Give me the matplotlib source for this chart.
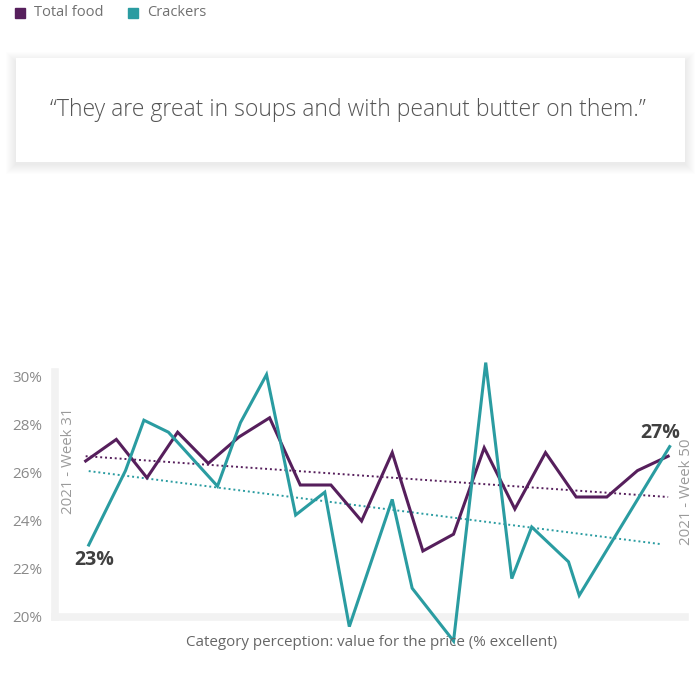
import numpy as np
import matplotlib
matplotlib.use("Agg")
import matplotlib.pyplot as plt
from matplotlib.patches import Rectangle

plt.rcParams['font.family'] = ['Open Sans', 'DejaVu Sans']

# data
weeks_total = list(range(31, 51))
total_food = [26.5, 27.4, 25.8, 27.7, 26.4, 27.5, 28.3, 25.5, 25.5, 24.0,
              26.85, 22.75, 23.45, 27.05, 24.5, 26.85, 25.0, 25.0, 26.1, 26.7]

weeks_crackers = [31.1, 32.3, 32.9, 33.7, 35.3, 36.05, 36.9, 37.85, 38.8, 39.6,
                  41.0, 41.65, 43.0, 44.05, 44.9, 45.55, 46.75, 47.1, 50.05]
crackers = [23.0, 26.1, 28.2, 27.7, 25.45, 28.1, 30.1, 24.25, 25.2, 19.6,
            24.9, 21.2, 19.0, 30.6, 21.6, 23.75, 22.3, 20.9, 27.1]

# dotted trend lines (start / end)
trend_weeks_total = [31, 50]
trend_total = [26.7, 25.0]
trend_weeks_crackers = [31.1, 49.8]
trend_crackers = [26.08, 23.03]

series_names = ['Total food', 'Crackers']
colors = ['#561f5c', '#2a9ca1']
y_ticks = [20, 22, 24, 26, 28, 30]
quote = '\u201cThey are great in soups and with peanut butter on them.\u201d'
caption = 'Category perception: value for the price (% excellent)'

fig = plt.figure(figsize=(6.99, 6.83), dpi=100)

# legend at top
for i, (name, c) in enumerate(zip(series_names, colors)):
    x0 = [15, 128][i] / 699
    fig.patches.append(Rectangle((x0, 1 - 18 / 683), 10 / 699, 10 / 683,
                                 transform=fig.transFigure, color=c))
    fig.text(x0 + 19 / 699, 1 - 13 / 683, name, fontsize=10.5, color='#707070',
             va='center', ha='left')

# quote box with soft shadow
bx0, by0, bx1, by1 = 16, 58, 685, 162
for k in range(10, 0, -1):
    fig.patches.append(Rectangle(((bx0 - k) / 699, 1 - (by1 + k + 2) / 683),
                                 (bx1 - bx0 + 2 * k) / 699, (by1 - by0 + 2 * k - 2) / 683,
                                 transform=fig.transFigure, color='#000000',
                                 alpha=0.006, lw=0))
fig.patches.append(Rectangle((bx0 / 699, 1 - by1 / 683), (bx1 - bx0) / 699,
                             (by1 - by0) / 683, transform=fig.transFigure,
                             color='white', lw=0))
fig.text(348 / 699, 1 - 110 / 683, quote, fontsize=16.6, color='#555555',
         ha='center', va='center', fontweight='light')

# main chart
ax = fig.add_axes([55 / 699, (683 - 617) / 683, 630 / 699, 244.8 / 683])
ax.plot(weeks_total, total_food, color=colors[0], lw=2.2, clip_on=False,
        solid_joinstyle='miter', zorder=4)
ax.plot(weeks_crackers, crackers, color=colors[1], lw=2.2, clip_on=False,
        solid_joinstyle='miter', zorder=4)
ax.plot(trend_weeks_total, trend_total, color=colors[0], lw=1.4,
        ls=(0, (1, 1.5)), zorder=3)
ax.plot(trend_weeks_crackers, trend_crackers, color=colors[1], lw=1.4,
        ls=(0, (1, 1.5)), zorder=3)

ax.set_xlim(30, 50.55)
ax.set_ylim(20, 30.2)
ax.set_yticks(y_ticks)
ax.set_yticklabels([f'{t}%' for t in y_ticks])
ax.tick_params(axis='y', length=0, pad=9, labelsize=11, labelcolor='#8a8a8a')
ax.set_xticks([])
for s in ['top', 'right']:
    ax.spines[s].set_visible(False)
for s in ['left', 'bottom']:
    ax.spines[s].set_color('#f2f2f2')
    ax.spines[s].set_linewidth(5.5)
    ax.spines[s].set_zorder(1)
ax.patch.set_alpha(0)

# end labels
ax.annotate(f'{crackers[0]:.0f}%', (weeks_crackers[0], crackers[0]),
            xytext=(4, -11), textcoords='offset points', ha='center', va='center',
            fontsize=14, fontweight='bold', color='#404040')
ax.annotate(f'{crackers[-1]:.0f}%', (weeks_crackers[-1], crackers[-1]),
            xytext=(-7, 10), textcoords='offset points', ha='center', va='center',
            fontsize=14, fontweight='bold', color='#404040')
ax.text(30.45, 26.5, '2021 - Week 31', rotation=90, ha='center', va='center',
        fontsize=10.8, color='#9a9a9a')
ax.text(50.6, 25.2, '2021 - Week 50', rotation=90, ha='center', va='center',
        fontsize=10.8, color='#9a9a9a', clip_on=False)

fig.text(372 / 699, 1 - 643 / 683, caption, fontsize=10.9, color='#666666',
         ha='center', va='center')

fig.savefig('out.png', dpi=100)
